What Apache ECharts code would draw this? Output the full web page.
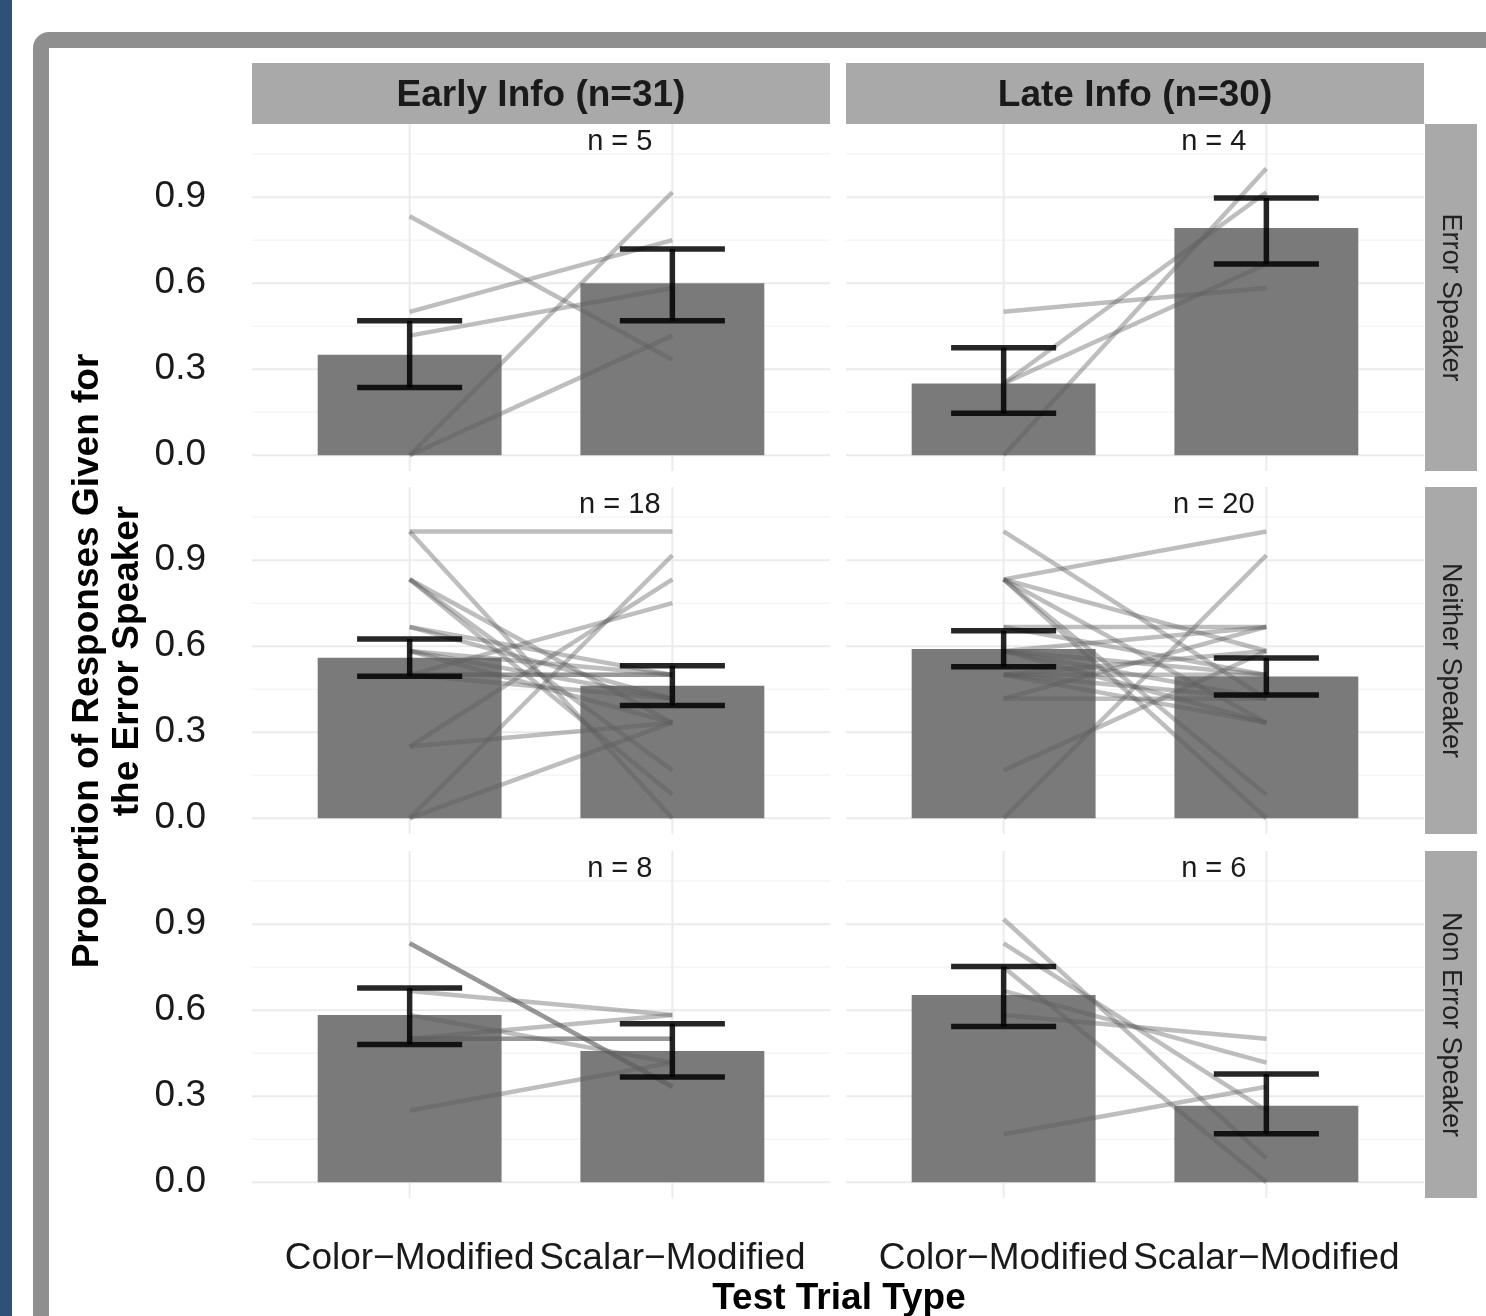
<!DOCTYPE html>
<html>
<head>
<meta charset="utf-8">
<script src="https://cdn.jsdelivr.net/npm/echarts@6/dist/echarts.min.js"></script>
<style>
html,body{margin:0;padding:0;background:#fff;}
#chart{width:1486px;height:1316px;}
</style>
</head>
<body>
<div id="chart"></div>
<script>
// ---------------- DATA ----------------
const categories = ['Color\u2212Modified', 'Scalar\u2212Modified'];
const colStrips = ['Early Info (n=31)', 'Late Info (n=30)'];
const rowStrips = ['Error Speaker', 'Neither Speaker', 'Non Error Speaker'];
const yTickValues = [0, 0.3, 0.6, 0.9];
const yMinorValues = [0.15, 0.45, 0.75, 1.05];
const xTitle = 'Test Trial Type';
const yTitle = 'Proportion of Responses Given for\nthe Error Speaker';
// panel order: [Error-Early, Error-Late, Neither-Early, Neither-Late, NonError-Early, NonError-Late]
const nLabels = ['n = 5', 'n = 4', 'n = 18', 'n = 20', 'n = 8', 'n = 6'];
const barMeans = [
  [0.35, 0.60], [0.25, 0.792],
  [0.56, 0.462], [0.59, 0.494],
  [0.583, 0.458], [0.653, 0.267]
];
const errLow = [
  [0.236, 0.469], [0.146, 0.667],
  [0.495, 0.393], [0.528, 0.430],
  [0.480, 0.367], [0.543, 0.169]
];
const errHigh = [
  [0.469, 0.719], [0.375, 0.897],
  [0.625, 0.532], [0.654, 0.559],
  [0.677, 0.553], [0.752, 0.377]
];
const subjectsErrorEarly = [[0.833,0.333],[0.5,0.75],[0.417,0.583],[0,0.917],[0,0.417]];
const subjectsErrorLate = [[0.5,0.583],[0,1.0],[0.25,0.917],[0.25,0.667]];
const subjectsNeitherEarly = [[1,1],[1,0],[0.833,0.083],[0.833,0.167],[0.833,0.333],[0.667,0.5],[0.667,0.417],[0.583,0.5],[0.583,0.417],[0.583,0.333],[0.5,0.5],[0.5,0.5],[0.5,0.75],[0.5,0.417],[0.25,0.833],[0.25,0.333],[0,0.917],[0,0.333]];
const subjectsNeitherLate = [[1.0,0.417],[0.833,1.0],[0.833,0.083],[0.833,0],[0.833,0.583],[0.833,0.333],[0.5,0.5],[0.667,0.5],[0.667,0.667],[0.583,0.667],[0.583,0.5],[0.583,0.417],[0.5,0.583],[0.5,0.417],[0.417,0.417],[0.417,0.667],[0.167,0.583],[0,0.917],[0.5,0.333],[0.583,0.333]];
const subjectsNonEarly = [[0.833,0.333],[0.833,0.333],[0.667,0.583],[0.583,0.417],[0.5,0.583],[0.5,0.5],[0.5,0.5],[0.25,0.417]];
const subjectsNonLate = [[0.917,0.083],[0.833,0.25],[0.75,0],[0.667,0.417],[0.583,0.5],[0.167,0.333]];
const subjects = [subjectsErrorEarly, subjectsErrorLate, subjectsNeitherEarly, subjectsNeitherLate, subjectsNonEarly, subjectsNonLate];

// ---------------- LAYOUT ----------------
const FONT = '"Liberation Sans", Arial, Helvetica, sans-serif';
const colLeft = [252, 846];
const rowTop = [124, 487, 851];
const PW = 578, PH = 347;
const X_MIN = 0.4, X_MAX = 2.6, Y_MIN = -0.055, Y_MAX = 1.155;
const BAR_HALF = 0.35, CAP_HALF = 0.2, N_X = 1.8, N_Y = 1.1;

const grids = [], xAxes = [], yAxes = [], series = [];
for (let row = 0; row < 3; row++) {
  for (let col = 0; col < 2; col++) {
    const p = row * 2 + col;
    grids.push({left: colLeft[col], top: rowTop[row], width: PW, height: PH, containLabel: false});
    xAxes.push({
      gridIndex: p, type: 'value', min: X_MIN, max: X_MAX,
      axisLine: {show: false}, axisTick: {show: false}, splitLine: {show: false},
      axisLabel: {
        show: row === 2, customValues: [1, 2], margin: 42, hideOverlap: false,
        formatter: v => categories[Math.round(v) - 1] || '',
        fontSize: 37, color: '#1a1a1a', fontFamily: FONT
      }
    });
    yAxes.push({
      gridIndex: p, type: 'value', min: Y_MIN, max: Y_MAX,
      axisLine: {show: false}, axisTick: {show: false}, splitLine: {show: false},
      axisLabel: {
        show: col === 0, customValues: yTickValues, margin: 46, hideOverlap: false,
        formatter: v => Number(v).toFixed(1),
        fontSize: 37, color: '#1a1a1a', fontFamily: FONT
      }
    });
    // grid lines
    const gridData = [];
    yMinorValues.forEach(v => gridData.push([1, v]));
    yTickValues.forEach(v => gridData.push([0, v]));
    [1, 2].forEach(v => gridData.push([2, v]));
    series.push({
      type: 'custom', xAxisIndex: p, yAxisIndex: p, silent: true, z: 1,
      data: gridData,
      renderItem: (params, api) => {
        const cs = params.coordSys;
        const kind = api.value(0), v = api.value(1);
        if (kind < 2) {
          const y = api.coord([1, v])[1];
          return {type: 'line', shape: {x1: cs.x, y1: y, x2: cs.x + cs.width, y2: y},
            style: {stroke: kind === 0 ? '#ebebeb' : '#f5f5f5', lineWidth: kind === 0 ? 2 : 1.5}};
        }
        const x = api.coord([v, 0])[0];
        return {type: 'line', shape: {x1: x, y1: cs.y, x2: x, y2: cs.y + cs.height},
          style: {stroke: '#ebebeb', lineWidth: 2}};
      }
    });
    // bars
    series.push({
      type: 'custom', xAxisIndex: p, yAxisIndex: p, silent: true, z: 2,
      data: barMeans[p].map((v, i) => [i + 1, v]),
      renderItem: (params, api) => {
        const x = api.value(0), v = api.value(1);
        const a = api.coord([x - BAR_HALF, v]);
        const b = api.coord([x + BAR_HALF, 0]);
        return {type: 'rect', shape: {x: a[0], y: a[1], width: b[0] - a[0], height: b[1] - a[1]},
          style: {fill: '#7a7a7a'}};
      }
    });
    // subject lines
    series.push({
      type: 'custom', xAxisIndex: p, yAxisIndex: p, silent: true, z: 3,
      data: subjects[p],
      renderItem: (params, api) => {
        const a = api.coord([1, api.value(0)]);
        const b = api.coord([2, api.value(1)]);
        return {type: 'line', shape: {x1: a[0], y1: a[1], x2: b[0], y2: b[1]},
          style: {stroke: 'rgba(92,92,92,0.4)', lineWidth: 4.5, lineCap: 'butt'}};
      }
    });
    // error bars
    series.push({
      type: 'custom', xAxisIndex: p, yAxisIndex: p, silent: true, z: 4,
      data: errLow[p].map((lo, i) => [i + 1, lo, errHigh[p][i]]),
      renderItem: (params, api) => {
        const x = api.value(0), lo = api.value(1), hi = api.value(2);
        const t = api.coord([x, hi]), bt = api.coord([x, lo]);
        const l = api.coord([x - CAP_HALF, hi])[0], r = api.coord([x + CAP_HALF, hi])[0];
        const st = {stroke: 'rgba(0,0,0,0.85)', lineWidth: 5.5, lineCap: 'butt'};
        return {type: 'group', children: [
          {type: 'line', shape: {x1: t[0], y1: t[1], x2: bt[0], y2: bt[1]}, style: st},
          {type: 'line', shape: {x1: l, y1: t[1], x2: r, y2: t[1]}, style: st},
          {type: 'line', shape: {x1: l, y1: bt[1], x2: r, y2: bt[1]}, style: st}
        ]};
      }
    });
    // n label
    series.push({
      type: 'custom', xAxisIndex: p, yAxisIndex: p, silent: true, z: 5,
      data: [[N_X, N_Y]],
      renderItem: (params, api) => {
        const c = api.coord([api.value(0), api.value(1)]);
        return {type: 'text', x: c[0], y: c[1] + 2,
          style: {text: nLabels[p], fontSize: 29, fontFamily: FONT, fill: '#1a1a1a',
            align: 'center', verticalAlign: 'middle'}};
      }
    });
  }
}

// strips & decorations
const graphics = [
  {type: 'rect', shape: {x: 0, y: 0, width: 12, height: 1316}, style: {fill: '#2e5179'}, z: 0},
  {type: 'rect', shape: {x: 41, y: 40, width: 1600, height: 1500, r: 8}, style: {fill: 'none', stroke: '#8f8f8f', lineWidth: 16}, z: 0}
];
for (let col = 0; col < 2; col++) {
  graphics.push({type: 'rect', shape: {x: colLeft[col], y: 63, width: PW, height: 61}, style: {fill: '#a9a9a9'}, z: 1});
  graphics.push({type: 'text', x: colLeft[col] + PW / 2, y: 96, z: 2,
    style: {text: colStrips[col], font: 'bold 37px ' + FONT, fill: '#1a1a1a', align: 'center', verticalAlign: 'middle'}});
}
for (let row = 0; row < 3; row++) {
  graphics.push({type: 'rect', shape: {x: 1425, y: rowTop[row], width: 52, height: PH}, style: {fill: '#a9a9a9'}, z: 1});
  graphics.push({type: 'text', x: 1450, y: rowTop[row] + PH / 2, rotation: -Math.PI / 2, z: 2,
    style: {text: rowStrips[row], font: '27px ' + FONT, fill: '#222', align: 'center', verticalAlign: 'middle'}});
}
graphics.push({type: 'text', x: 839, y: 1299, z: 2,
  style: {text: xTitle, font: 'bold 37px ' + FONT, fill: '#000', align: 'center', verticalAlign: 'middle'}});
graphics.push({type: 'text', x: 108, y: 661, rotation: Math.PI / 2, z: 2,
  style: {text: yTitle, font: 'bold 37px ' + FONT, fill: '#000', align: 'center', verticalAlign: 'middle', lineHeight: 40}});

const chart = echarts.init(document.getElementById('chart'), null, {renderer: 'canvas'});
chart.setOption({
  animation: false,
  backgroundColor: '#fff',
  textStyle: {fontFamily: FONT},
  grid: grids, xAxis: xAxes, yAxis: yAxes, series: series,
  graphic: graphics
});
</script>
</body>
</html>
